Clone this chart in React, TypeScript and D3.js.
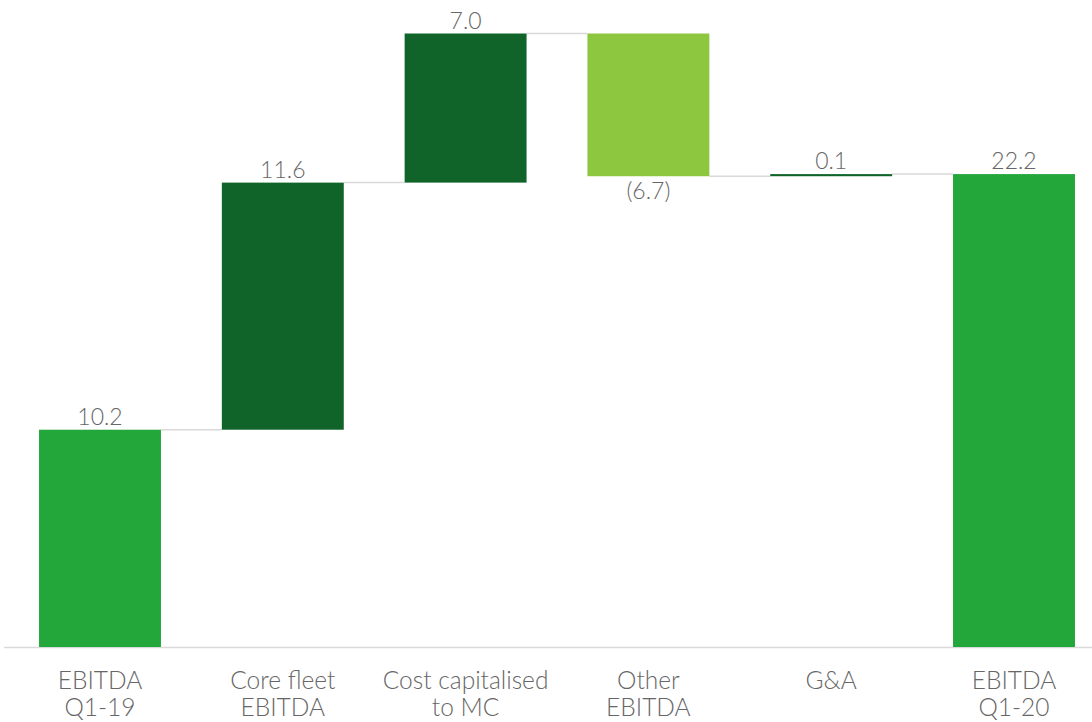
import React from "react";
import * as d3 from "d3";

const categories: string[][] = [
  ["EBITDA", "Q1-19"],
  ["Core fleet", "EBITDA"],
  ["Cost capitalised", "to MC"],
  ["Other", "EBITDA"],
  ["G&A"],
  ["EBITDA", "Q1-20"],
];
const values = [10.2, 11.6, 7.0, -6.7, 0.1, 22.2];
const kinds = ["total", "delta", "delta", "delta", "delta", "total"];
const labels = ["10.2", "11.6", "7.0", "(6.7)", "0.1", "22.2"];

const W = 1092;
const H = 722;

export default function App() {
  const x = d3
    .scaleBand<number>()
    .domain(values.map((_, i) => i))
    .range([8.6, 1105.4])
    .paddingInner(0.333)
    .paddingOuter(0.1665);
  const y = d3.scaleLinear().domain([0, 28.8]).range([647, 33.5]);

  let run = 0;
  const bars = values.map((v, i) => {
    let start: number, end: number;
    if (kinds[i] === "total") {
      start = 0;
      end = v;
      run = v;
    } else {
      start = run;
      end = run + v;
      run = end;
    }
    return { i, start, end, v };
  });

  const color = (b: { i: number; v: number }) => {
    if (kinds[b.i] === "total") return "#23a63a";
    if (b.v < 0) return "#8dc63f";
    return "#106429";
  };

  const font = "Lato, 'Open Sans', sans-serif";

  return (
    <svg
      width={W}
      height={H}
      style={{ position: "absolute", left: 0, top: 0, display: "block" }}
    >
      <rect width={W} height={H} fill="#ffffff" />
      {bars.slice(0, -1).map((b, k) => {
        const x1 = (x(b.i) as number) + x.bandwidth();
        const x2 = x(bars[k + 1].i) as number;
        const yy = y(b.end);
        return (
          <line
            key={"c" + k}
            x1={x1}
            x2={x2}
            y1={yy}
            y2={yy}
            stroke="#d9d9d9"
            strokeWidth={1.5}
          />
        );
      })}
      <line x1={4} x2={W} y1={y(0) + 0.5} y2={y(0) + 0.5} stroke="#d9d9d9" strokeWidth={1.5} />
      {bars.map((b) => {
        const top = y(Math.max(b.start, b.end));
        const bot = y(Math.min(b.start, b.end));
        return (
          <rect
            key={"b" + b.i}
            x={x(b.i)}
            y={top}
            width={x.bandwidth()}
            height={Math.max(bot - top, 1)}
            fill={color(b)}
          />
        );
      })}
      {bars.map((b) => {
        const cx = (x(b.i) as number) + x.bandwidth() / 2;
        const neg = b.v < 0;
        const yy = neg ? y(Math.min(b.start, b.end)) + 23 : y(Math.max(b.start, b.end)) - 5;
        return (
          <text
            key={"l" + b.i}
            x={cx}
            y={yy}
            textAnchor="middle"
            fontFamily={font}
            fontSize={23}
            fontWeight={300}
            fill="#666666"
          >
            {labels[b.i]}
          </text>
        );
      })}
      {categories.map((lines, i) => {
        const cx = (x(i) as number) + x.bandwidth() / 2;
        return (
          <text
            key={"t" + i}
            textAnchor="middle"
            fontFamily={font}
            fontSize={24.5}
            fontWeight={300}
            fill="#666666"
          >
            {lines.map((ln, j) => (
              <tspan key={j} x={cx} y={689 + j * 27}>
                {ln}
              </tspan>
            ))}
          </text>
        );
      })}
    </svg>
  );
}
